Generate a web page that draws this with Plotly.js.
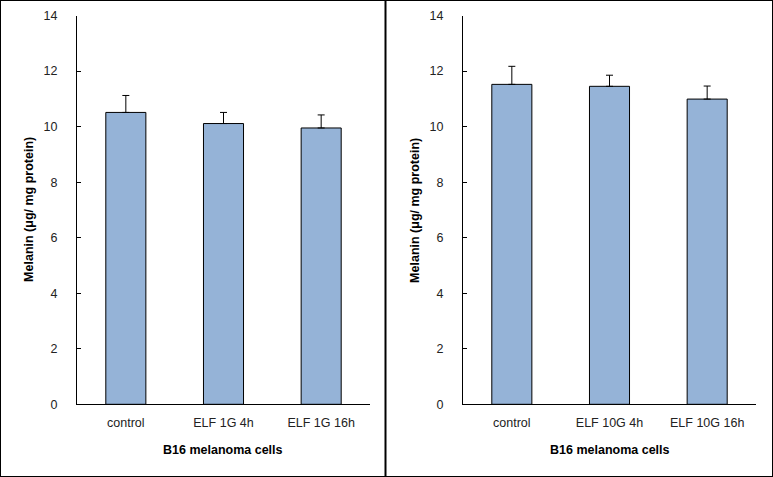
<!DOCTYPE html>
<html>
<head>
<meta charset="utf-8">
<script src="https://cdn.plot.ly/plotly-3.0.1.min.js"></script>
<style>html,body{margin:0;padding:0;background:#fff}#chart{width:773px;height:477px}</style>
</head>
<body>
<div id="chart"></div>
<script>
// Data
const categoriesLeft = ["control", "ELF 1G 4h", "ELF 1G 16h"];
const valuesLeft = [10.51, 10.11, 9.95];
const errorsLeft = [0.61, 0.40, 0.47];

const categoriesRight = ["control", "ELF 10G 4h", "ELF 10G 16h"];
const valuesRight = [11.52, 11.45, 10.99];
const errorsRight = [0.65, 0.40, 0.47];

const yTickVals = [0, 2, 4, 6, 8, 10, 12, 14];
const yTitle = "Melanin (μg/ mg protein)";
const xTitle = "B16 melanoma cells";

const barColor = "#95B3D7";
const font = "Liberation Sans, Arial, sans-serif";

function barTrace(cats, vals, errs, xa, ya) {
  return {
    type: "bar", x: cats, y: vals, xaxis: xa, yaxis: ya,
    marker: {color: barColor, line: {color: "#000", width: 1}},
    error_y: {type: "data", array: errs, arrayminus: errs.map(() => 0), symmetric: false,
              color: "#000", thickness: 1, width: 3.5},
    hoverinfo: "none", showlegend: false
  };
}

const data = [
  barTrace(categoriesLeft, valuesLeft, errorsLeft, "x", "y"),
  barTrace(categoriesRight, valuesRight, errorsRight, "x2", "y2")
];

const yDom = [0.1524, 0.9675];
function yAxis(anchor) {
  return {
    domain: yDom, anchor: anchor, range: [0, 14], tickvals: yTickVals,
    ticks: "inside", ticklen: 4, tickcolor: "#000", tickwidth: 1,
    showline: true, linecolor: "#000", linewidth: 1, showgrid: false, zeroline: false,
    ticklabelstandoff: 16,
    tickfont: {family: font, size: 12.5, color: "#222"}, fixedrange: true
  };
}
function xAxis(dom, anchor) {
  return {
    domain: dom, anchor: anchor, showline: true, linecolor: "#000", linewidth: 1,
    ticks: "", showgrid: false, zeroline: false, ticklabelstandoff: 7,
    tickfont: {family: font, size: 12.5, color: "#222"}, fixedrange: true
  };
}

const xDomL = [77/773, 370/773];
const xDomR = [463/773, 756/773];

function titleAnns(xDom) {
  const cx = (xDom[0] + xDom[1]) / 2;
  return [
    {text: "<b>" + xTitle + "</b>", xref: "paper", yref: "paper", x: cx, y: 1 - 450/477,
     showarrow: false, font: {family: font, size: 12.5, color: "#000"}, xanchor: "center", yanchor: "middle"},
    {text: "<b>" + yTitle + "</b>", xref: "paper", yref: "paper", x: xDom[0] - 48/773, y: (yDom[0]+yDom[1])/2,
     textangle: -90, showarrow: false, font: {family: font, size: 12.5, color: "#000"}, xanchor: "center", yanchor: "middle"}
  ];
}

const layout = {
  width: 773, height: 477,
  margin: {l: 0, r: 0, t: 0, b: 0},
  paper_bgcolor: "#fff", plot_bgcolor: "#fff",
  bargap: 0.59,
  xaxis: xAxis(xDomL, "y"),
  yaxis: yAxis("x"),
  xaxis2: xAxis(xDomR, "y2"),
  yaxis2: yAxis("x2"),
  annotations: titleAnns(xDomL).concat(titleAnns(xDomR)),
  shapes: [
    {type: "rect", xref: "paper", yref: "paper", x0: 0, x1: 1, y0: 0, y1: 1, line: {color: "#000", width: 2}},
    {type: "line", xref: "paper", yref: "paper", x0: 385.5/773, x1: 385.5/773, y0: 0, y1: 1, line: {color: "#000", width: 2}}
  ]
};

Plotly.newPlot("chart", data, layout, {displayModeBar: false, staticPlot: true});
</script>
</body>
</html>
